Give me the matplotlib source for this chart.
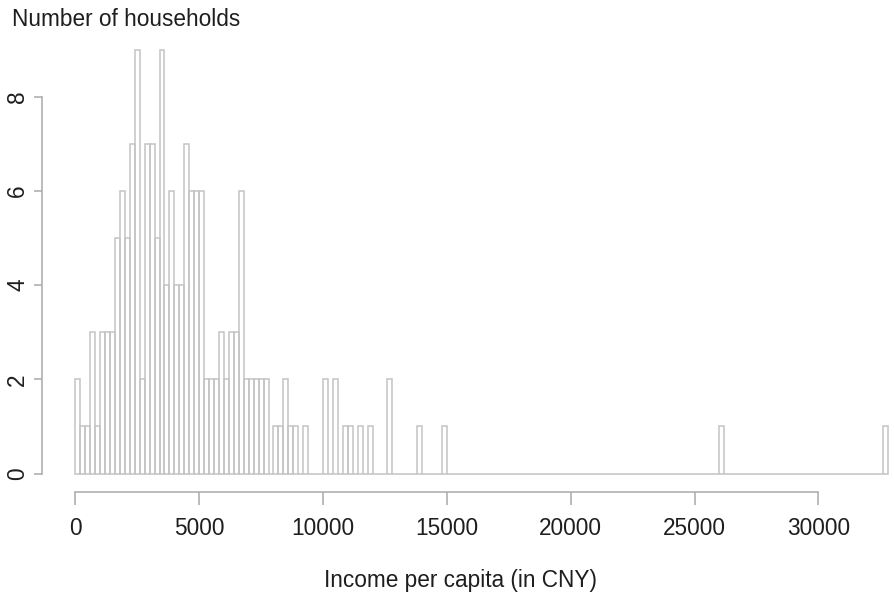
import matplotlib
matplotlib.use("Agg")
import matplotlib.pyplot as plt
import numpy as np

plt.rcParams['font.family'] = ['Liberation Sans', 'DejaVu Sans']

# lower edge of each non-empty 200 CNY bin and its household count
income_bin = [0, 200, 400, 600, 800, 1000, 1200, 1400, 1600, 1800,
              2000, 2200, 2400, 2600, 2800, 3000, 3200, 3400, 3600, 3800,
              4000, 4200, 4400, 4600, 4800, 5000, 5200, 5400, 5600, 5800,
              6000, 6200, 6400, 6600, 6800, 7000, 7200, 7400, 7600,
              8000, 8200, 8400, 8600, 8800, 9200, 10000, 10400, 10800,
              11000, 11400, 11800, 12600, 13800, 14800, 26000, 32600]
households = [2, 1, 1, 3, 1, 3, 3, 3, 5, 6,
              5, 7, 9, 2, 7, 7, 5, 9, 4, 6,
              4, 4, 7, 6, 6, 6, 2, 2, 2, 3,
              2, 3, 3, 6, 2, 2, 2, 2, 2,
              1, 1, 2, 1, 1, 1, 2, 2, 1,
              1, 1, 1, 2, 1, 1, 1, 1]
bin_width = 200
x_max = 32800
xticks = [0, 5000, 10000, 15000, 20000, 25000, 30000]
yticks = [0, 2, 4, 6, 8]

edges = np.arange(0, x_max, bin_width)
counts = np.zeros(len(edges))
for b, h in zip(income_bin, households):
    counts[b // bin_width] = h

W, H = 894, 592
fig = plt.figure(figsize=(W / 100, H / 100), dpi=100)
# axes placed so that data 0 sits at x=75px, baseline at y=473.5px (from top)
px_per_cny = 0.02477
px_per_count = 47.1
left = 75.3
width = x_max * px_per_cny
bottom = H - 473.5
height = 9 * px_per_count
ax = fig.add_axes([left / W, bottom / H, width / W, height / H])

bar_col = '#c4c4c4'
axis_col = '#a9a9a9'
text_col = '#1e1e1e'
fs = 16.3

ax.bar(edges, counts, width=bin_width, align='edge', fill=False,
       edgecolor=bar_col, linewidth=1.1, clip_on=False)

ax.set_xlim(0, x_max)
ax.set_ylim(0, 9)

for s in ['top', 'right']:
    ax.spines[s].set_visible(False)
ax.spines['left'].set_position(('outward', 33.6 * 0.72))
ax.spines['left'].set_bounds(0, 8)
ax.spines['bottom'].set_position(('outward', 18.8 * 0.72))
ax.spines['bottom'].set_bounds(0, 30000)
for s in ['left', 'bottom']:
    ax.spines[s].set_color(axis_col)
    ax.spines[s].set_linewidth(1.1)

ax.set_xticks(xticks)
ax.set_xticklabels([str(t) for t in xticks])
ax.set_yticks(yticks)
ax.set_yticklabels([str(t) for t in yticks], rotation=90, va='center')
ax.tick_params(axis='x', length=9.1, width=1.1, color=axis_col, pad=8.5,
               labelsize=fs, labelcolor=text_col)
ax.tick_params(axis='y', length=6, width=1.1, color=axis_col, pad=3,
               labelsize=fs, labelcolor=text_col)

fig.text(12 / W, 1 - 20 / H, 'Number of households', ha='left', va='center',
         fontsize=fs, color=text_col)
fig.text(460 / W, 1 - 580 / H, 'Income per capita (in CNY)', ha='center',
         va='center', fontsize=fs, color=text_col)

fig.savefig('out.png', dpi=100)
